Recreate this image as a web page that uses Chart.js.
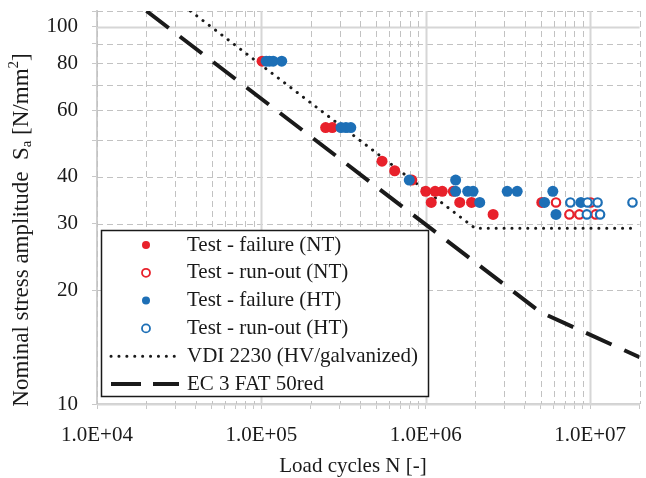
<!DOCTYPE html>
<html lang="en">
<head>
<meta charset="UTF-8">
<title>S-N diagram</title>
<script src="https://cdn.jsdelivr.net/npm/chart.js@4.4.1/dist/chart.umd.min.js"></script>
<style>
  html, body { margin: 0; padding: 0; background: #fff; }
  #wrap { width: 646px; height: 478px; position: relative; }
</style>
</head>
<body>
<div id="wrap"><canvas id="sn"></canvas></div>
<script>
// load cycles N [-] and stress amplitude Sa [N/mm2] per test group
const ntFailN = [1.01e5, 2.46e5, 2.70e5, 5.42e5, 6.47e5, 8.23e5, 1.0e6, 1.14e6, 1.26e6, 1.47e6, 1.08e6, 1.61e6, 1.90e6, 5.08e6, 2.57e6];
const ntFailS = [81, 54, 54, 44, 41.5, 39.2, 36.6, 36.6, 36.6, 36.6, 34.2, 34.2, 34.2, 34.2, 31.8];

const ntRunN = [6.2e6, 1.01e7, 7.48e6, 8.6e6, 1.08e7];
const ntRunS = [34.2, 34.2, 31.8, 31.8, 31.8];

const htFailN = [1.07e5, 1.12e5, 1.18e5, 1.33e5, 3.05e5, 3.27e5, 3.50e5, 7.94e5, 1.52e6, 1.52e6, 1.80e6, 1.94e6, 3.13e6, 3.6e6, 5.93e6, 2.13e6, 5.28e6, 8.79e6, 6.2e6];
const htFailS = [81, 81, 81, 81, 54, 54, 54, 39.2, 39.2, 36.6, 36.6, 36.6, 36.6, 36.6, 36.6, 34.2, 34.2, 34.2, 31.8];

const htRunN = [7.58e6, 9.64e6, 1.11e7, 1.81e7, 9.55e6, 1.15e7];
const htRunS = [34.2, 34.2, 34.2, 34.2, 31.8, 31.8];

// design curves (corner points)
const vdiN = [3.7e4, 2.0e6, 1.9e7];
const vdiS = [110, 29.2, 29.2];
const ecN = [2.0e4, 5.0e6, 2.0e7];
const ecS = [110, 17.5, 13.3];

// axis ticks
const yTicks = [10, 20, 30, 40, 50, 60, 70, 80, 90, 100, 110];
const yLabelled = [10, 20, 30, 40, 60, 80, 100];
const yMajor = [10, 100];
const xDecades = [1e4, 1e5, 1e6, 1e7];
const xTicks = [];
xDecades.forEach(d => { for (let k = 1; k <= 9; k++) if (d * k <= 2e7) xTicks.push(d * k); });

const RED = '#E8212B';
const BLUE = '#1D6FB6';
const INK = '#1a1a1a';
const FONT = '"Liberation Serif", "Times New Roman", serif';

function pts(n, s) { return n.map((v, i) => ({ x: v, y: s[i] })); }

function sciLabel(v) {
  const e = Math.round(Math.log10(v));
  return '1.0E+' + String(e).padStart(2, '0');
}

// dashed minor / solid major grid, drawn under the data
const gridLines = {
  id: 'gridLines',
  beforeDatasetsDraw(chart) {
    const { ctx, chartArea: a, scales } = chart;
    ctx.save();
    const line = (x1, y1, x2, y2, major) => {
      ctx.beginPath();
      ctx.setLineDash(major ? [] : [6, 4]);
      ctx.lineWidth = major ? 2 : 1;
      ctx.strokeStyle = major ? '#d6d6d6' : '#c2c2c2';
      ctx.moveTo(x1, y1); ctx.lineTo(x2, y2); ctx.stroke();
    };
    yTicks.forEach(v => {
      const y = Math.round(scales.y.getPixelForValue(v)) + 0.5;
      line(a.left, y, a.right, y, yMajor.includes(v));
    });
    xTicks.forEach(v => {
      const x = Math.round(scales.x.getPixelForValue(v)) + 0.5;
      line(x, a.top, x, a.bottom, xDecades.includes(v) && v > 1e4);
    });
    ctx.restore();
  }
};

// axis titles and the boxed legend inside the plot
const annotations = {
  id: 'annotations',
  afterDraw(chart) {
    const ctx = chart.ctx;
    ctx.save();
    ctx.fillStyle = INK;
    ctx.font = '21px ' + FONT;
    ctx.textBaseline = 'middle';
    ctx.textAlign = 'center';
    ctx.fillText('Load cycles N [-]', 353, 466);

    // y title with subscript and superscript
    const parts = [
      ['Nominal stress amplitude  S', 23, 0],
      ['a', 15, 5],
      [' [N/mm', 23, 0],
      ['2', 15, -8],
      [']', 23, 0]
    ];
    ctx.textAlign = 'left';
    let total = 0;
    parts.forEach(p => { ctx.font = p[1] + 'px ' + FONT; total += ctx.measureText(p[0]).width; });
    ctx.translate(22, 230);
    ctx.rotate(-Math.PI / 2);
    let cx = -total / 2;
    parts.forEach(p => {
      ctx.font = p[1] + 'px ' + FONT;
      ctx.fillText(p[0], cx, p[2]);
      cx += ctx.measureText(p[0]).width;
    });
    ctx.restore();

    // legend
    ctx.save();
    ctx.fillStyle = '#fff';
    ctx.fillRect(101.5, 230.5, 327, 166);
    ctx.strokeStyle = INK;
    ctx.lineWidth = 1.5;
    ctx.strokeRect(101.5, 230.5, 327, 166);
    ctx.font = '21px ' + FONT;
    ctx.textBaseline = 'middle';
    chart.data.datasets.forEach((ds, i) => {
      const y = 245 + i * 27.8;
      if (ds.showLine) {
        ctx.beginPath();
        ctx.strokeStyle = ds.borderColor;
        ctx.lineWidth = ds.borderWidth;
        ctx.lineCap = ds.borderCapStyle || 'butt';
        ctx.setLineDash(ds.legendDash);
        ctx.moveTo(111, y); ctx.lineTo(179, y); ctx.stroke();
        ctx.setLineDash([]);
      } else {
        ctx.beginPath();
        ctx.arc(146, y, 4, 0, Math.PI * 2);
        ctx.fillStyle = ds.backgroundColor;
        ctx.fill();
        if (ds.pointBorderWidth) {
          ctx.lineWidth = 1.8;
          ctx.strokeStyle = ds.borderColor;
          ctx.stroke();
        }
      }
      ctx.fillStyle = INK;
      ctx.fillText(ds.label, 187, y);
    });
    ctx.restore();
  }
};

new Chart(document.getElementById('sn'), {
  type: 'scatter',
  data: {
    datasets: [
      { label: 'Test - failure (NT)', data: pts(ntFailN, ntFailS), backgroundColor: RED, borderColor: RED,
        pointRadius: 5.5, pointBorderWidth: 0, order: 4 },
      { label: 'Test - run-out (NT)', data: pts(ntRunN, ntRunS), backgroundColor: '#fff', borderColor: RED,
        pointRadius: 4.2, pointBorderWidth: 2.2, order: 3 },
      { label: 'Test - failure (HT)', data: pts(htFailN, htFailS), backgroundColor: BLUE, borderColor: BLUE,
        pointRadius: 5.5, pointBorderWidth: 0, order: 2 },
      { label: 'Test - run-out (HT)', data: pts(htRunN, htRunS), backgroundColor: '#fff', borderColor: BLUE,
        pointRadius: 4.2, pointBorderWidth: 2.2, order: 1 },
      { label: 'VDI 2230 (HV/galvanized)', data: pts(vdiN, vdiS), showLine: true, pointRadius: 0,
        borderColor: INK, borderWidth: 3, borderDash: [0.1, 7.8], borderCapStyle: 'round',
        legendDash: [0.1, 7.8], order: 6 },
      { label: 'EC 3 FAT 50red', data: pts(ecN, ecS), showLine: true, pointRadius: 0,
        borderColor: INK, borderWidth: 4, borderDash: [28, 14], legendDash: [30, 12], order: 5 }
    ]
  },
  plugins: [gridLines, annotations],
  options: {
    responsive: true,
    maintainAspectRatio: false,
    animation: false,
    layout: { padding: { left: 0, right: 3.6, top: 11, bottom: 0 } },
    plugins: { legend: { display: false }, tooltip: { enabled: false } },
    scales: {
      x: {
        type: 'logarithmic',
        min: 1e4,
        max: 2e7,
        afterBuildTicks: s => { s.ticks = xTicks.map(v => ({ value: v })); },
        afterFit: s => { s.height = 74; s.paddingLeft = 0; s.paddingRight = 0; },
        ticks: {
          autoSkip: false, maxRotation: 0, padding: 14,
          color: INK, font: { family: FONT, size: 21 },
          callback: v => xDecades.includes(v) ? sciLabel(v) : ''
        },
        grid: { drawOnChartArea: false, tickLength: 5, color: '#c8c8c8' },
        border: { color: '#cfcfcf', width: 2 }
      },
      y: {
        type: 'logarithmic',
        min: 10,
        max: 110,
        afterBuildTicks: s => { s.ticks = yTicks.map(v => ({ value: v })); },
        afterFit: s => { s.width = 97; s.paddingTop = 0; s.paddingBottom = 0; },
        ticks: {
          autoSkip: false, padding: 14,
          color: INK, font: { family: FONT, size: 21 },
          callback: v => yLabelled.includes(v) ? String(v) : ''
        },
        grid: { drawOnChartArea: false, tickLength: 5, color: '#c8c8c8' },
        border: { color: '#cfcfcf', width: 2 }
      }
    }
  }
});
</script>
</body>
</html>
